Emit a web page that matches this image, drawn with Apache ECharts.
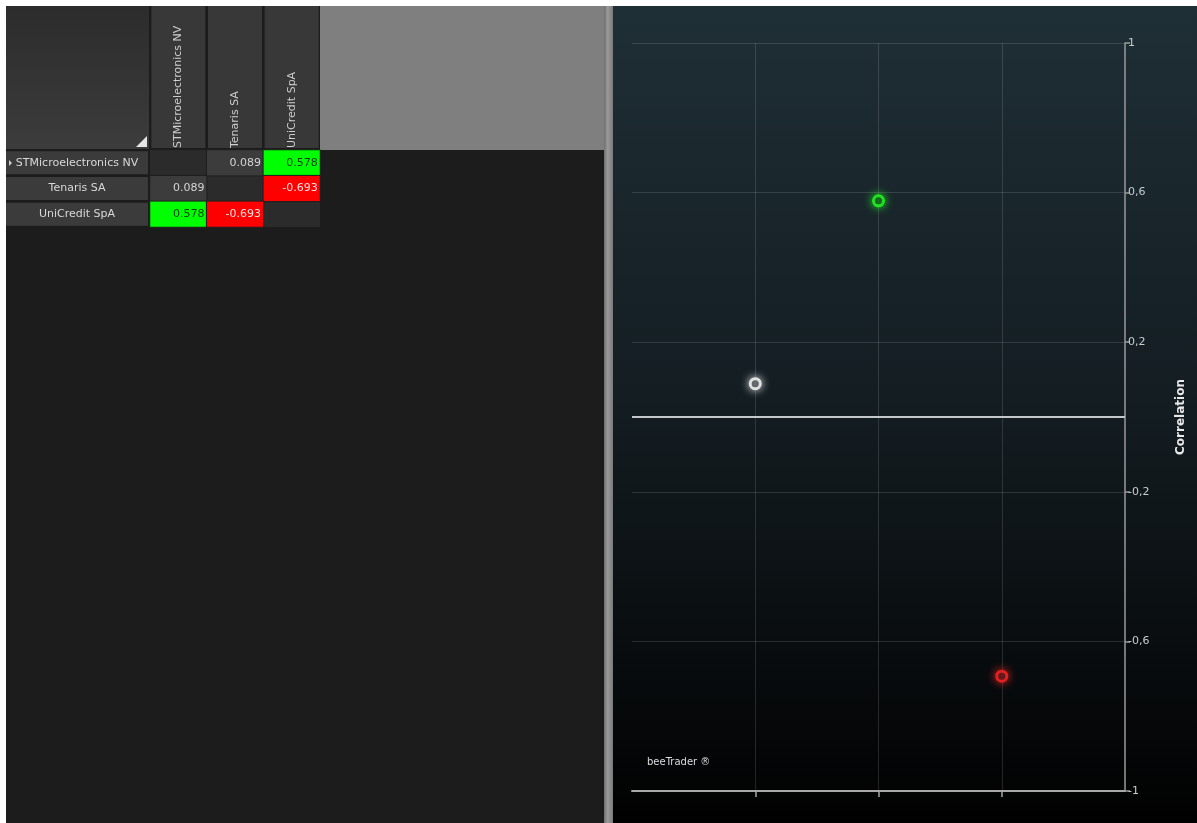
<!DOCTYPE html>
<html>
<head>
<meta charset="utf-8">
<script src="https://cdn.jsdelivr.net/npm/echarts@6/dist/echarts.min.js"></script>
<style>
html,body{margin:0;padding:0;background:#ffffff;}
#c{width:1197px;height:823px;}
</style>
</head>
<body>
<div id="c"></div>
<script>
// ---- data ----
const assets = ['STMicroelectronics NV', 'Tenaris SA', 'UniCredit SpA'];
const corrMatrix = [
  [null, 0.089, 0.578],
  [0.089, null, -0.693],
  [0.578, -0.693, null]
];
const yTickValues = [-1, -0.6, -0.2, 0.2, 0.6, 1];
const xPairTicks = [1, 2, 3];

// ---- derived ----
function cellColor(v) {
  if (v >= 0.5) return '#00ff00';
  if (v <= -0.5) return '#ff0000';
  return '#3c3c3c';
}
function cellText(v) {
  if (v >= 0.5) return '#0b3d0b';
  if (v <= -0.5) return '#ffe0e0';
  return '#d4d4d4';
}
function pointColor(v) {
  if (v >= 0.5) return '#22ff22';
  if (v <= -0.5) return '#ff2424';
  return '#ffffff';
}

const heatData = [];
corrMatrix.forEach((row, r) => {
  row.forEach((v, c) => {
    if (v === null) return;
    heatData.push({
      value: [c, r, v],
      itemStyle: { color: cellColor(v) },
      label: { color: cellText(v) }
    });
  });
});

const pairData = [];
let k = 0;
for (let i = 0; i < assets.length; i++) {
  for (let j = i + 1; j < assets.length; j++) {
    const v = corrMatrix[i][j];
    const col = pointColor(v);
    pairData.push({
      value: [xPairTicks[k], v],
      itemStyle: { color: '#0c1418', borderColor: col, borderWidth: 3, shadowBlur: 8, shadowColor: col }
    });
    k++;
  }
}

const FONT = 'DejaVu Sans';
const chart = echarts.init(document.getElementById('c'));

chart.setOption({
  backgroundColor: '#ffffff',
  animation: false,
  textStyle: { fontFamily: FONT },
  graphic: {
    elements: [
      { type: 'rect', z: -100, shape: { x: 6, y: 6, width: 600, height: 817 }, style: { fill: '#1c1c1c' } },
      { type: 'rect', z: -99, shape: { x: 320, y: 6, width: 285, height: 144 }, style: { fill: '#7f7f7f' } },
      { type: 'rect', z: -99, shape: { x: 604, y: 6, width: 9, height: 817 },
        style: { fill: new echarts.graphic.LinearGradient(0, 0, 1, 0, [
          { offset: 0, color: '#6e6e6e' }, { offset: 0.4, color: '#9a9a9a' }, { offset: 1, color: '#7a7a7a' }]) } },
      { type: 'rect', z: -100, shape: { x: 613, y: 6, width: 584, height: 817 },
        style: { fill: new echarts.graphic.LinearGradient(0, 0, 0, 1, [
          { offset: 0, color: '#1f2f36' }, { offset: 0.5, color: '#131c21' }, { offset: 1, color: '#010101' }]) } },
      { type: 'rect', z: -98, shape: { x: 6, y: 6, width: 143, height: 143 },
        style: { fill: new echarts.graphic.LinearGradient(0, 0, 0, 1, [
          { offset: 0, color: '#2c2c2c' }, { offset: 1, color: '#3c3c3c' }]) } },
      { type: 'polygon', z: 10, shape: { points: [[136, 147], [147, 136], [147, 147]] }, style: { fill: '#e6e6e6' } },
      { type: 'polygon', z: 10, shape: { points: [[9, 160], [12, 163], [9, 166]] }, style: { fill: '#cfcfcf' } },
      { type: 'text', z: 10, x: 647, y: 757, style: { text: 'beeTrader ®', fill: '#d8dde0', font: '10px ' + FONT } }
    ]
  },
  grid: [
    { left: 150, top: 150, width: 170, height: 77, show: true, backgroundColor: '#2b2b2b', borderWidth: 0 },
    { left: 632, top: 43, width: 493, height: 748, show: false }
  ],
  xAxis: [
    {
      gridIndex: 0, type: 'category', data: assets, position: 'top',
      axisLine: { show: false }, axisTick: { show: false }, splitLine: { show: false },
      axisLabel: {
        rotate: -90, align: 'left', margin: 2, interval: 0, color: '#cfcfcf', fontSize: 11,
        width: 142, height: 54, backgroundColor: '#383838', overflow: 'truncate'
      }
    },
    {
      gridIndex: 1, type: 'value', min: 0, max: 4, interval: 1,
      axisLine: { show: true, onZero: false, lineStyle: { color: '#a8a8a8', width: 2 } },
      axisTick: { show: true, customValues: xPairTicks, length: 6, lineStyle: { color: '#a8a8a8', width: 1.5 } },
      axisLabel: { show: false },
      splitLine: { show: true, lineStyle: { color: 'rgba(255,255,255,0.13)', width: 1 } }
    }
  ],
  yAxis: [
    {
      gridIndex: 0, type: 'category', data: assets, inverse: true,
      axisLine: { show: false }, axisTick: { show: false }, splitLine: { show: false },
      axisLabel: {
        interval: 0, margin: 73, align: 'center', color: '#d8d8d8', fontSize: 11,
        width: 142, height: 23, backgroundColor: '#3b3b3b'
      }
    },
    {
      gridIndex: 1, type: 'value', min: -1, max: 1, interval: 0.4, position: 'right',
      name: 'Correlation', nameLocation: 'middle', nameRotate: 90, nameGap: 50,
      nameTextStyle: { color: '#e8e8e8', fontWeight: 'bold', fontSize: 12, fontFamily: FONT },
      axisLine: { show: true, onZero: false, lineStyle: { color: '#9a9a9a', width: 1.5 } },
      axisTick: { show: true, length: 5, lineStyle: { color: '#9a9a9a', width: 1.5 } },
      axisLabel: {
        margin: 3, color: '#c8cdd0', fontSize: 11,
        formatter: v => String(Math.round(v * 10) / 10).replace('.', ',')
      },
      splitLine: { show: true, lineStyle: { color: 'rgba(255,255,255,0.13)', width: 1 } }
    }
  ],
  series: [
    {
      type: 'heatmap', xAxisIndex: 0, yAxisIndex: 0, data: heatData,
      itemStyle: { borderColor: '#1e1e1e', borderWidth: 1 },
      label: { show: true, position: 'insideRight', distance: 3, fontSize: 11, fontFamily: FONT,
        formatter: p => p.value[2].toFixed(3) },
      emphasis: { disabled: true }
    },
    {
      type: 'scatter', xAxisIndex: 1, yAxisIndex: 1, data: pairData,
      symbol: 'circle', symbolSize: 10, z: 5,
      markLine: {
        silent: true, symbol: 'none', label: { show: false },
        lineStyle: { color: '#c4c8ca', width: 2, type: 'solid' },
        data: [{ yAxis: 0 }]
      }
    }
  ]
});
</script>
</body>
</html>
